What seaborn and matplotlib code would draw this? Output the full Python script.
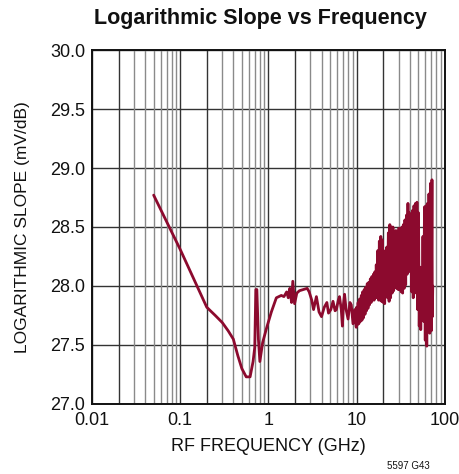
import matplotlib
matplotlib.use("Agg")
import matplotlib.pyplot as plt
import matplotlib.ticker as mticker
from matplotlib import font_manager
import pandas as pd
import seaborn as sns

# Low band: RF frequency (GHz) and logarithmic slope (mV/dB)
LB_FREQ_GHZ = [
    0.050, 0.10, 0.20, 0.25, 0.30, 0.35, 0.40, 0.45, 0.50, 0.56, 0.62, 0.67,
    0.70, 0.72, 0.74, 0.77, 0.80, 0.86, 0.95, 1.08, 1.23, 1.40, 1.50, 1.61,
    1.68, 1.75, 1.83, 1.89, 1.98, 2.10, 2.25, 2.50, 2.75, 2.90, 3.10, 3.25,
    3.50, 3.75, 4.0, 4.3, 4.6, 4.8, 5.1, 5.4, 5.7, 5.9, 6.2, 6.4, 6.7, 6.9,
    7.1, 7.3, 7.6, 8.0, 8.4, 8.7, 9.1, 9.5, 9.9,
]
LB_SLOPE_MV_DB = [
    28.77, 28.31, 27.82, 27.75, 27.69, 27.62, 27.55, 27.41, 27.30, 27.23, 27.23, 27.36,
    27.48, 27.97, 27.97, 27.55, 27.36, 27.52, 27.64, 27.78, 27.90, 27.92, 27.91, 27.95,
    27.90, 27.98, 27.86, 28.04, 27.85, 27.94, 27.96, 27.97, 27.98, 27.95, 27.88, 27.80,
    27.91, 27.78, 27.74, 27.82, 27.86, 27.77, 27.80, 27.87, 27.79, 27.80, 27.88, 27.91, 27.80, 27.66,
    27.85, 27.93, 27.80, 27.72, 27.86, 27.84, 27.68, 27.80, 27.65,
]

# High band (10 GHz and up): dense sweep with large point-to-point ripple
HB_FREQ_GHZ = [
    10.0, 10.2, 10.4, 10.6, 10.8, 11.05, 11.3, 11.5, 11.7, 11.95,
    12.2, 12.45, 12.7, 12.95, 13.2, 13.45, 13.7, 14.0, 14.3, 14.6,
    14.9, 15.2, 15.5, 15.8, 16.1, 16.4, 16.7, 17.05, 17.4, 17.75,
    18.1, 18.45, 18.8, 19.2, 19.6, 20.0, 20.4, 20.8, 21.2, 21.6,
    22.0, 22.45, 22.9, 23.35, 23.8, 24.3, 24.8, 25.3, 25.8, 26.3,
    26.8, 27.35, 27.9, 28.45, 29.0, 29.6, 30.2, 30.8, 31.4, 32.0,
    32.6, 33.25, 33.9, 34.6, 35.3, 36.0, 36.7, 37.45, 38.2, 38.95,
    39.7, 40.5, 41.3, 42.15, 43.0, 43.85, 44.7, 45.6, 46.5, 47.4,
    48.3, 49.3, 50.3, 51.3, 52.3, 53.35, 54.4, 55.45, 56.5, 57.65,
    58.8, 60.0, 61.2, 62.4, 63.6, 64.85, 66.1, 67.45, 68.8, 70.15,
    71.5, 72.2, 73.0,
]
HB_SLOPE_MV_DB = [
    27.82, 27.67, 27.86, 27.68, 27.89, 27.70, 27.92, 27.71, 27.95, 27.73,
    27.97, 27.76, 27.99, 27.79, 28.02, 27.81, 28.03, 27.84, 28.06, 27.86,
    28.08, 27.88, 28.10, 27.88, 28.12, 27.90, 28.18, 27.90, 28.30, 27.88,
    28.38, 27.88, 28.42, 27.87, 28.39, 27.86, 28.25, 27.85, 28.30, 27.95,
    28.33, 27.90, 28.45, 27.87, 28.52, 27.90, 28.50, 27.94, 28.50, 27.96,
    28.44, 27.99, 28.47, 27.98, 28.45, 27.97, 28.49, 27.97, 28.48, 27.95,
    28.50, 27.94, 28.52, 27.98, 28.56, 28.01, 28.60, 28.10, 28.70, 28.16,
    28.62, 28.12, 28.60, 27.95, 28.64, 27.90, 28.68, 27.94, 28.70, 27.98,
    28.71, 27.80, 28.62, 27.66, 28.16, 27.63, 28.14, 27.74, 28.42, 27.70,
    28.67, 27.54, 28.68, 27.49, 28.70, 27.66, 28.78, 27.60, 28.87, 27.62,
    28.90, 27.74, 28.00,
]

X_TICKS = [0.01, 0.1, 1, 10, 100]
X_TICK_LABELS = ["0.01", "0.1", "1", "10", "100"]
Y_TICKS = [27.0, 27.5, 28.0, 28.5, 29.0, 29.5, 30.0]

sns.set_theme(style="white")
installed = {f.name for f in font_manager.fontManager.ttflist}
narrow = [f for f in ["Liberation Sans Narrow", "DejaVu Sans Condensed"] if f in installed]
plt.rcParams["font.family"] = narrow + ["Liberation Sans", "DejaVu Sans"]

line_color = "#8c0a2e"

fig = plt.figure(figsize=(4.6, 4.74), dpi=100)
ax = fig.add_axes([0.200, 0.1477, 0.767, 0.7468])

df = pd.DataFrame({"freq": LB_FREQ_GHZ + HB_FREQ_GHZ,
                   "slope": LB_SLOPE_MV_DB + HB_SLOPE_MV_DB})
sns.lineplot(data=df, x="freq", y="slope", sort=False, estimator=None,
             color=line_color, linewidth=2.0, ax=ax, zorder=3)

ax.set_xscale("log")
ax.set_xlim(0.01, 100)
ax.set_ylim(27.0, 30.0)

# decade gridlines and the 2x lines dark, the rest lighter gray
ax.xaxis.set_major_locator(mticker.FixedLocator(X_TICKS))
ax.xaxis.set_major_formatter(mticker.FixedFormatter(X_TICK_LABELS))
ax.xaxis.set_minor_locator(mticker.NullLocator())
ax.yaxis.set_major_locator(mticker.FixedLocator(Y_TICKS))
ax.yaxis.set_major_formatter(mticker.FormatStrFormatter("%.1f"))

ax.grid(True, which="major", axis="both", color="#333333", linewidth=1.0, zorder=1)
for dec in [0.01, 0.1, 1, 10]:
    for m in range(2, 10):
        ax.axvline(dec * m, color="#333333" if m == 2 else "#8a8a8a",
                   linewidth=1.0, zorder=1)

ax.tick_params(axis="both", which="both", length=0, labelsize=13, colors="#111111")
ax.tick_params(axis="x", pad=6)
ax.tick_params(axis="y", pad=5)
for s in ax.spines.values():
    s.set_color("#111111")
    s.set_linewidth(1.4)

ax.set_xlabel("RF FREQUENCY (GHz)", fontsize=13, color="#111111", labelpad=6)
ax.set_ylabel("LOGARITHMIC SLOPE (mV/dB)", fontsize=12.5, color="#111111", labelpad=14)

fig.text(0.567, 0.962, "Logarithmic Slope vs Frequency", ha="center", va="center",
         fontsize=15.5, fontweight="bold", color="#111111")
fig.text(0.935, 0.017, "5597 G43", ha="right", va="center", fontsize=7, color="#111111")

fig.savefig("out.png", dpi=100)
